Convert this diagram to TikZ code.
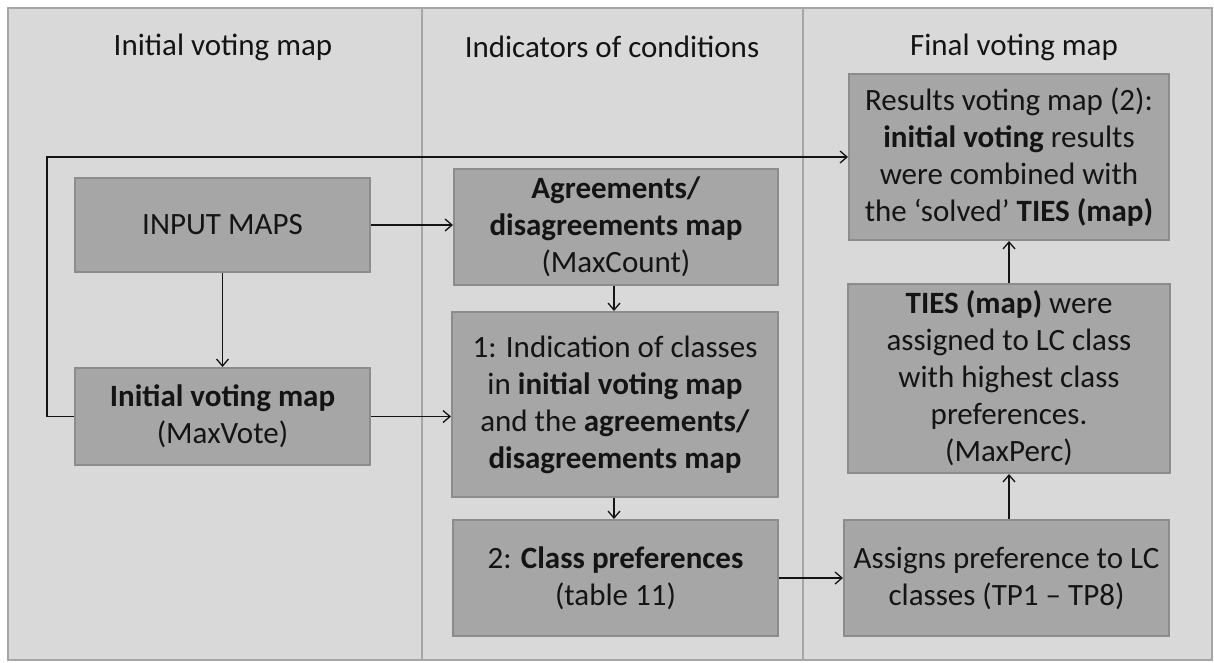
\documentclass[tikz,border=0pt]{standalone}
\usepackage{fontspec}
\setmainfont{Carlito}
\usetikzlibrary{arrows.meta}
\definecolor{panelfill}{HTML}{D9D9D9}
\definecolor{panelline}{HTML}{A6A6A6}
\definecolor{boxfill}{HTML}{A6A6A6}
\definecolor{boxline}{HTML}{8C8C8C}
\definecolor{ink}{HTML}{141414}
\begin{document}
\begin{tikzpicture}[x=1pt,y=-1pt,
  panel/.style={fill=panelfill,draw=panelline,line width=2.5pt},
  stepbox/.style={draw=boxline,fill=boxfill,line width=2pt,inner sep=0pt,
    align=center,text=ink,font=\fontsize{31}{37}\selectfont},
  title/.style={text=ink,font=\fontsize{31}{37}\selectfont},
  flow/.style={draw=ink,line width=1.5pt,-{Straight Barb[length=7pt,width=12pt,line width=1.3pt]}}]
  \useasboundingbox (0,0) rectangle (1214,662);
  \fill[white] (0,0) rectangle (1214,662);
  % three column panels
  \draw[panel] (8,8) rectangle (422,660);
  \draw[panel] (422,8) rectangle (803,660);
  \draw[panel] (803,8) rectangle (1212,660);
  % column headings
  \node[title] (h1) at (223,47) {Initial voting map};
  \node[title] (h2) at (612,47) {Indicators of conditions};
  \node[title] (h3) at (1014,47) {Final voting map};
  % boxes
  \node[stepbox,minimum width=295,minimum height=94] (inmaps) at (222.5,225) {INPUT MAPS};
  \node[stepbox,minimum width=295,minimum height=97] (ivm) at (222.5,416.5)
    {\textbf{Initial voting map}\\(MaxVote)};
  \node[stepbox,minimum width=324,minimum height=116] (agree) at (616,227)
    {\textbf{Agreements/}\\\textbf{disagreements map}\\(MaxCount)};
  \node[stepbox,minimum width=326,minimum height=185] (indic) at (615,404.5)
    {1: Indication of classes\\in \textbf{initial voting map}\\and the \textbf{agreements/}\\\textbf{disagreements map}};
  \node[stepbox,minimum width=325,minimum height=116] (classpref) at (615.5,578)
    {2: \textbf{Class preferences}\\(table 11)};
  \node[stepbox,minimum width=320,minimum height=166] (results) at (1009,157)
    {Results voting map (2):\\\textbf{initial voting} results\\were combined with\\the ‘solved’ \textbf{TIES (map)}};
  \node[stepbox,minimum width=322,minimum height=189] (ties) at (1009,378.5)
    {\textbf{TIES (map)} were\\assigned to LC class\\with highest class\\preferences.\\(MaxPerc)};
  \node[stepbox,minimum width=325,minimum height=116] (assigns) at (1006.5,578)
    {Assigns preference to LC\\classes (TP1 – TP8)};
  % connectors
  \coordinate (loop) at (47,0);
  \draw[flow] (inmaps.east) -- (inmaps.east -| agree.west);
  \draw[flow] (inmaps.south) -- (ivm.north);
  \draw[flow] (ivm.east) -- (ivm.east -| indic.west);
  \draw[flow] (ivm.west) -- (ivm.west -| loop) |- (results.west);
  \draw[flow] (agree.south -| 614,0) -- (indic.north -| 614,0);
  \draw[flow] (indic.south -| 614,0) -- (classpref.north -| 614,0);
  \draw[flow] (classpref.east) -- (classpref.east -| assigns.west);
  \draw[flow] (assigns.north -| ties.south) -- (ties.south);
  \draw[flow] (ties.north) -- (results.south);
\end{tikzpicture}
\end{document}
